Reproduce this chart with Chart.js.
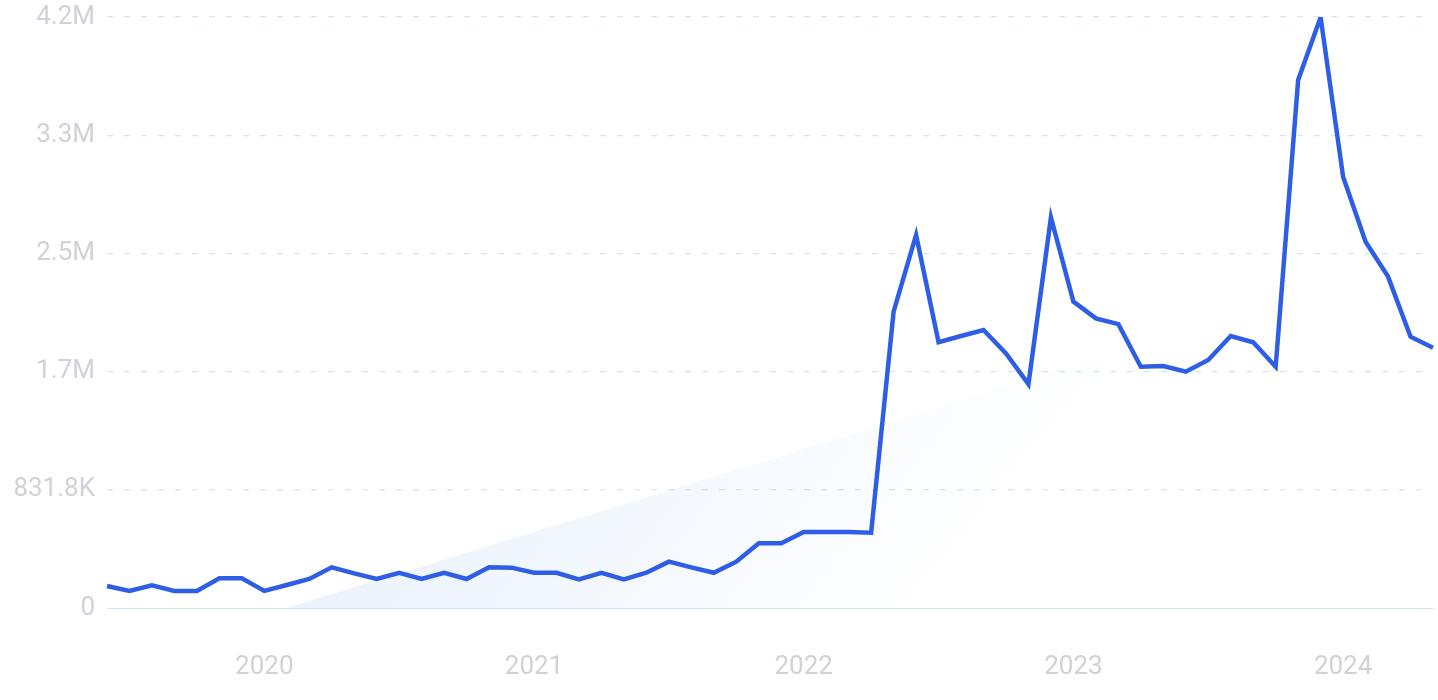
<!DOCTYPE html>
<html>
<head>
<meta charset="utf-8">
<script src="https://cdn.jsdelivr.net/npm/chart.js@4/dist/chart.umd.min.js"></script>
<style>
    html, body { margin: 0; padding: 0; background: #ffffff; }
    #wrap { width: 1438px; height: 700px; }
</style>
</head>
<body>
<div id="wrap"><canvas id="trend-chart"></canvas></div>
<script>
// 월별 카테고리 (2019-06 ~ 2024-05)
const months = [
    '2019-06', '2019-07', '2019-08', '2019-09', '2019-10', '2019-11', '2019-12',
    '2020-01', '2020-02', '2020-03', '2020-04', '2020-05', '2020-06', '2020-07', '2020-08', '2020-09', '2020-10', '2020-11', '2020-12',
    '2021-01', '2021-02', '2021-03', '2021-04', '2021-05', '2021-06', '2021-07', '2021-08', '2021-09', '2021-10', '2021-11', '2021-12',
    '2022-01', '2022-02', '2022-03', '2022-04', '2022-05', '2022-06', '2022-07', '2022-08', '2022-09', '2022-10', '2022-11', '2022-12',
    '2023-01', '2023-02', '2023-03', '2023-04', '2023-05', '2023-06', '2023-07', '2023-08', '2023-09', '2023-10', '2023-11', '2023-12',
    '2024-01', '2024-02', '2024-03', '2024-04', '2024-05'
];

// 검색량 값
const volumes = [
    155000, 120000, 160000, 120000, 120000, 209000, 209000,
    120000, 162000, 204000, 286000, 244000, 204000, 248000, 204000, 248000, 204000, 286000, 284000,
    248000, 248000, 202000, 248000, 202000, 248000, 326000, 286000, 248000, 326000, 455000, 455000,
    535000, 535000, 535000, 530000, 2085000, 2625000, 1870000, 1914000, 1956000, 1792000, 1576000, 2749000,
    2156000, 2038000, 1998000, 1698000, 1703000, 1663000, 1745000, 1914000, 1870000, 1698000, 3716000, 4157000,
    3035000, 2578000, 2332000, 1909000, 1832000
];

// 추세선 (시작/끝 값)
const trendMonths = ['2020-02', '2024-05'];
const trendValues = [0, 2480000];

// y축 눈금
const yTicks = [0, 831800, 1663600, 2495400, 3327200, 4159000];

function formatVolume(v) {
    if (v >= 1000000) return (v / 1000000).toFixed(1) + 'M';
    if (v >= 1000) return (v / 1000).toFixed(1) + 'K';
    return String(v);
}

// 추세 영역 그라디언트
function trendFill(context) {
    const area = context.chart.chartArea;
    if (!area) return 'rgba(210,228,250,0.4)';
    const w = area.right - area.left;
    const h = area.bottom - area.top;
    const g = context.chart.ctx.createLinearGradient(
        area.left + w * 0.376, area.top + h * 0.276,
        area.left + w * 0.68, area.top + h * 0.83
    );
    g.addColorStop(0, 'rgba(205,224,250,0.42)');
    g.addColorStop(1, 'rgba(205,224,250,0)');
    return g;
}

const ctx = document.getElementById('trend-chart').getContext('2d');
const chart = new Chart(ctx, {
    type: 'line',
    data: {
        labels: months,
        datasets: [
            {
                data: volumes,
                borderColor: '#2e5ee6',
                borderWidth: 4.5,
                pointRadius: 0,
                tension: 0,
                fill: false,
                order: 0
            },
            {
                data: trendMonths.map((m, i) => ({ x: m, y: trendValues[i] })),
                borderWidth: 0,
                borderColor: 'rgba(0,0,0,0)',
                backgroundColor: trendFill,
                pointRadius: 0,
                fill: 'origin',
                order: 1
            }
        ]
    },
    options: {
        responsive: true,
        maintainAspectRatio: false,
        animation: false,
        layout: { padding: { top: 17, right: 5, left: 0, bottom: 0 } },
        plugins: {
            legend: { display: false },
            tooltip: { enabled: false }
        },
        scales: {
            x: {
                grid: { display: false },
                border: { display: true, color: '#cfe5f7', width: 1 },
                ticks: {
                    autoSkip: false,
                    maxRotation: 0,
                    padding: 36,
                    color: '#d0d1d9',
                    font: { family: 'Roboto', size: 26, weight: 400 },
                    callback: function (value) {
                        const m = months[value];
                        return m.endsWith('-01') ? m.slice(0, 4) : '';
                    }
                },
                afterFit: (scale) => {
                    scale.height = 92;
                    scale.paddingLeft = 0;
                    scale.paddingRight = 0;
                }
            },
            y: {
                min: 0,
                max: yTicks[yTicks.length - 1],
                afterBuildTicks: (scale) => { scale.ticks = yTicks.map(v => ({ value: v })); },
                grid: {
                    drawTicks: false,
                    color: (c) => c.tick && c.tick.value === 0 ? 'rgba(0,0,0,0)' : '#cde7f3',
                    lineWidth: 1.2
                },
                border: { display: false, dash: [6, 11] },
                ticks: {
                    padding: 12,
                    color: '#d0d1d9',
                    font: { family: 'Roboto', size: 26, weight: 400 },
                    callback: (v) => formatVolume(v)
                },
                afterFit: (scale) => {
                    scale.width = 107;
                    scale.paddingTop = 0;
                    scale.paddingBottom = 0;
                }
            }
        }
    }
});
</script>
</body>
</html>
